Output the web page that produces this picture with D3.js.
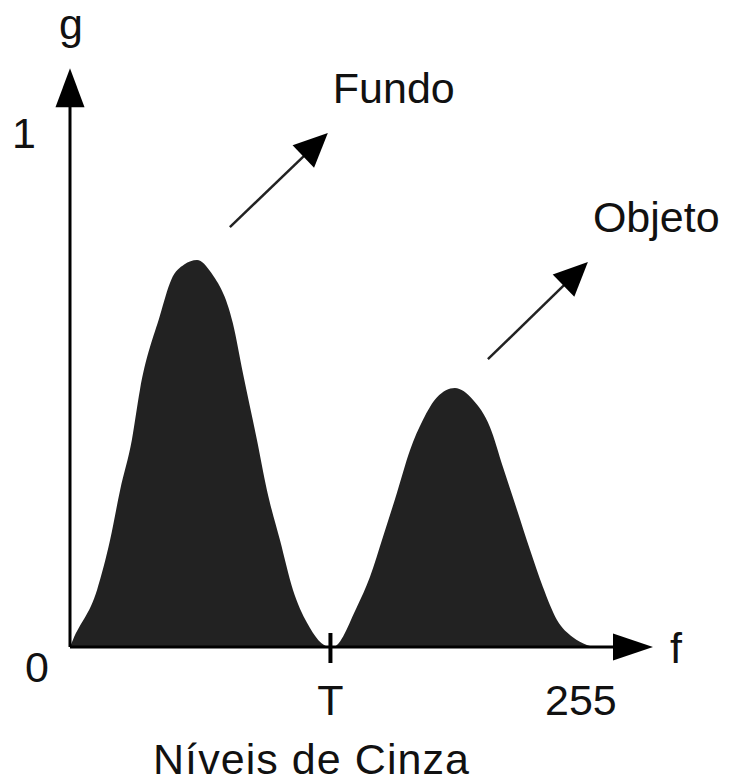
<!DOCTYPE html>
<html>
<head>
<meta charset="utf-8">
<script src="https://cdn.jsdelivr.net/npm/d3@7"></script>
<style>
  body { margin: 0; background: #fff; }
  svg text { font-family: "Liberation Sans", Arial, sans-serif; fill: #111; }
</style>
</head>
<body>
<div id="chart"></div>
<script>
// grey level f and histogram value g
const levels = [0, 1.5, 13.5, 20, 25, 30.9, 34.9, 44.9, 50.5, 57, 63.4, 70.5, 81.3, 86.3, 93.3, 98.3, 104.8, 111.3, 118.3, 129.7,
  131.2, 143.2, 149.7, 156.2, 163.2, 169.7, 176.2, 183.2, 192.1, 201.1, 209.6, 216.1, 223.1, 229.6, 236, 243, 251, 258, 262];
const counts = [0, 0.014, 0.111, 0.208, 0.305, 0.403, 0.5, 0.645, 0.714, 0.744, 0.753, 0.728, 0.63, 0.533, 0.403, 0.305, 0.208, 0.111, 0.047, 0,
  0, 0.078, 0.136, 0.214, 0.3, 0.383, 0.442, 0.486, 0.504, 0.481, 0.428, 0.35, 0.267, 0.189, 0.117, 0.053, 0.019, 0.004, 0];

const threshold = 130;
const xLabels = [{ v: threshold, t: "T" }, { v: 255, t: "255" }];
const yLabels = [{ v: 0, t: "0" }, { v: 1, t: "1" }];
const notes = [
  { t: "Fundo", from: [79.8, 0.817], to: [128.7, 1.0] },
  { t: "Objeto", from: [208.6, 0.56], to: [258.5, 0.749] }
];

const width = 729, height = 784;
const svg = d3.select("#chart").append("svg")
  .attr("width", width)
  .attr("height", height);

const x = d3.scaleLinear().domain([0, 291]).range([70, 653]);
const y = d3.scaleLinear().domain([0, 1]).range([647, 133]);
const yTop = 1.126;

const pts = levels.map((f, i) => ({ f, g: counts[i] }));

const area = d3.area()
  .x(d => x(d.f))
  .y0(y(0))
  .y1(d => y(d.g))
  .curve(d3.curveMonotoneX);

svg.append("path")
  .datum(pts)
  .attr("d", area)
  .attr("fill", "#222");

function arrowHead(tx, ty, ang, len, half) {
  const bx = tx - Math.cos(ang) * len, by = ty - Math.sin(ang) * len;
  const px = -Math.sin(ang) * half, py = Math.cos(ang) * half;
  return `M${tx},${ty}L${bx + px},${by + py}L${bx - px},${by - py}Z`;
}

// axes
svg.append("line")
  .attr("x1", x(0)).attr("y1", y(0))
  .attr("x2", x(0)).attr("y2", y(yTop) + 30)
  .attr("stroke", "#000").attr("stroke-width", 3);
svg.append("path")
  .attr("d", arrowHead(x(0), y(yTop), -Math.PI / 2, 39, 14.5))
  .attr("fill", "#000");

svg.append("line")
  .attr("x1", x(0)).attr("y1", y(0))
  .attr("x2", x(291) - 30).attr("y2", y(0))
  .attr("stroke", "#000").attr("stroke-width", 3);
svg.append("path")
  .attr("d", arrowHead(x(291), y(0), 0, 40, 13.5))
  .attr("fill", "#000");

// threshold tick
svg.append("line")
  .attr("x1", x(threshold)).attr("x2", x(threshold))
  .attr("y1", y(0) - 14).attr("y2", y(0) + 16)
  .attr("stroke", "#000").attr("stroke-width", 4);

const fs = 43;
svg.selectAll(".xlab")
  .data(xLabels)
  .enter().append("text")
  .attr("class", "xlab")
  .attr("x", d => x(d.v))
  .attr("y", y(0) + 68)
  .attr("text-anchor", "middle")
  .style("font-size", fs + "px")
  .text(d => d.t);

svg.selectAll(".ylab")
  .data(yLabels)
  .enter().append("text")
  .attr("class", "ylab")
  .attr("x", d => d.v === 0 ? x(0) - 33 : x(0) - 46)
  .attr("y", d => d.v === 0 ? y(0) + 35 : y(d.v) + 15)
  .attr("text-anchor", "middle")
  .style("font-size", fs + "px")
  .text(d => d.t);

svg.append("text")
  .attr("x", x(0) + 1).attr("y", 39)
  .attr("text-anchor", "middle")
  .style("font-size", fs + "px")
  .text("g");

svg.append("text")
  .attr("x", x(291) + 17).attr("y", y(0) + 16)
  .style("font-size", fs + "px")
  .text("f");

svg.append("text")
  .attr("x", 153).attr("y", 774)
  .attr("textLength", 316)
  .style("font-size", fs + "px")
  .text("Níveis de Cinza");

// annotations
notes.forEach(n => {
  const x1 = x(n.from[0]), y1 = y(n.from[1]);
  const x2 = x(n.to[0]), y2 = y(n.to[1]);
  const ang = Math.atan2(y2 - y1, x2 - x1);
  svg.append("line")
    .attr("x1", x1).attr("y1", y1)
    .attr("x2", x2 - Math.cos(ang) * 25).attr("y2", y2 - Math.sin(ang) * 25)
    .attr("stroke", "#222").attr("stroke-width", 2.5);
  svg.append("path")
    .attr("d", arrowHead(x2, y2, ang, 34, 15.5))
    .attr("fill", "#000");
  svg.append("text")
    .attr("x", x2 + 5).attr("y", y2 - 30)
    .style("font-size", fs + "px")
    .text(n.t);
});
</script>
</body>
</html>
